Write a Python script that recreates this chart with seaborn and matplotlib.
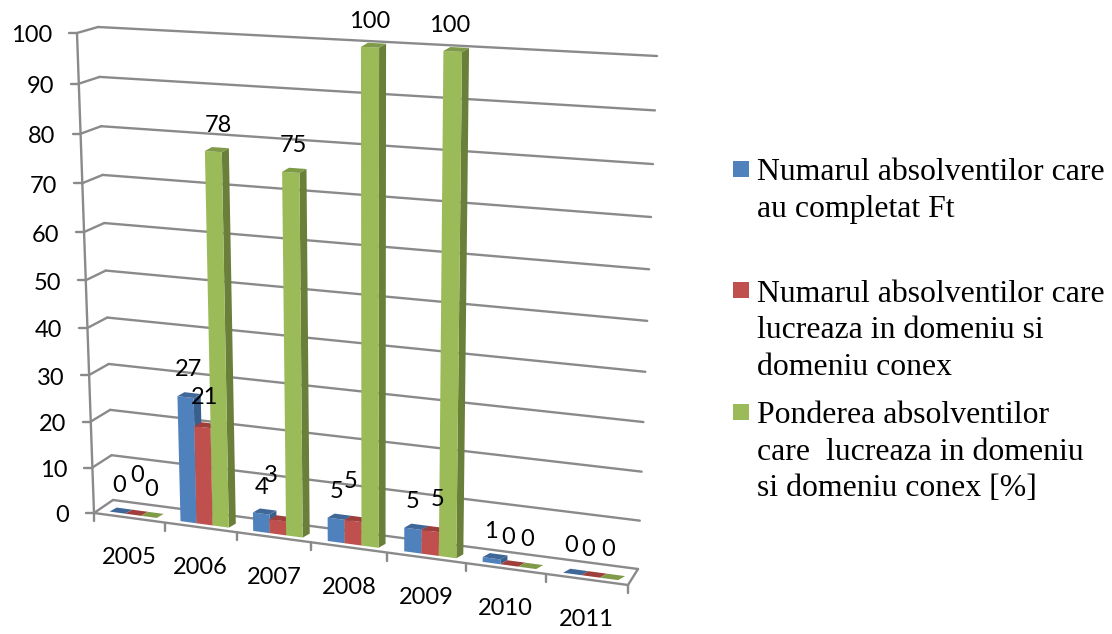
import numpy as np
import pandas as pd
import seaborn as sns
import matplotlib.pyplot as plt
from matplotlib.lines import Line2D
from matplotlib.patches import Polygon, Rectangle
from matplotlib.transforms import Affine2D, Transform

years = ["2005", "2006", "2007", "2008", "2009", "2010", "2011"]
completat = [0, 27, 4, 5, 5, 1, 0]
domeniu = [0, 21, 3, 5, 5, 0, 0]
ponderea = [0, 78, 75, 100, 100, 0, 0]
y_ticks = list(range(0, 101, 10))
series_names = [
    "Numarul absolventilor care au completat Ft",
    "Numarul absolventilor care lucreaza in domeniu si domeniu conex",
    "Ponderea absolventilor care lucreaza in domeniu si domeniu conex [%]",
]
legend_lines = [
    ["Numarul absolventilor care", "au completat Ft"],
    ["Numarul absolventilor care", "lucreaza in domeniu si", "domeniu conex"],
    ["Ponderea absolventilor", "care  lucreaza in domeniu", "si domeniu conex [%]"],
]

front_colors = ["#4F81BD", "#C0504D", "#9BBB59"]
side_colors = ["#395F8E", "#8F3B39", "#697F3A"]
top_colors = ["#3F6797", "#9E3F3C", "#7F9B47"]
grid_color = "#8A8A8A"

# where the data labels sit, in picture pixels, same order as the series
label_pos = [
    [(119, 484), (188, 368), (262, 486), (337, 490), (413, 499), (491, 529), (571, 543)],
    [(137, 473), (205, 395), (271, 474), (351, 480), (438, 497), (508, 535), (588, 547)],
    [(151, 488), (218, 124), (293, 144), (370, 19), (450, 23), (527, 538), (608, 548)],
]
legend_box_y = [161, 282, 404]
legend_baselines = [[180, 217], [302, 338, 375], [423, 460, 496]]


class Plane(Transform):
    """Maps (category, value) onto a tilted plane in picture pixels."""
    input_dims = 2
    output_dims = 2

    def __init__(self, corners):
        super().__init__()
        src = [(-0.5, 0), (-0.5, 100), (6.5, 0), (6.5, 100)]
        a, b = [], []
        for (u, v), (x, y) in zip(src, corners):
            a.append([u, v, 1, 0, 0, 0, -u * x, -v * x])
            a.append([0, 0, 0, u, v, 1, -u * y, -v * y])
            b += [x, y]
        self.h = np.append(np.linalg.solve(np.array(a, float), np.array(b, float)), 1).reshape(3, 3)

    def transform_non_affine(self, values):
        pts = np.column_stack([values, np.ones(len(values))]) @ self.h.T
        return pts[:, :2] / pts[:, 2:]


front = Plane([(94, 513), (77, 33), (628, 585), (646, 62)])
back = Plane([(113, 500), (98, 27), (638, 569), (657, 56)])
bars = Plane([(98, 510), (81, 32.5), (632, 582), (650, 61.5)])
depth = np.array([7, -4])

df = pd.DataFrame({
    "an": years * 3,
    "valoare": completat + domeniu + ponderea,
    "serie": np.repeat(series_names, len(years)),
})

sns.set_style("white")
plt.rcParams["font.family"] = ["Lato", "DejaVu Sans"]
plt.rcParams["text.color"] = "black"

fig = plt.figure(figsize=(11.12, 6.34), dpi=100)
ax = fig.add_axes([0, 0, 1, 1])
sns.barplot(data=df, x="an", y="valoare", hue="serie", order=years, palette=front_colors,
            width=0.667, gap=0, saturation=1, legend=False, linewidth=0, ax=ax)
ax.axis("off")

# everything apart from the bars is placed in picture pixels
pix = Affine2D().scale(1 / 1112, -1 / 634).translate(0, 1) + fig.transFigure


def line(p, q, lw=1.7):
    ax.add_line(Line2D([p[0], q[0]], [p[1], q[1]], color=grid_color, lw=lw, transform=pix,
                       clip_on=False, zorder=1, solid_capstyle="round"))


def on(plane, u, v):
    return plane.transform_non_affine(np.array([[u, v]], float))[0]


# walls and floor
for tick in y_ticks:
    f = on(front, -0.5, tick)
    b = on(back, -0.5, tick)
    line(f + [-8, 0], f)
    line(f, b)
    line(b, on(back, 6.5, tick))
    ax.text(f[0] - 25, f[1] + 3, str(tick), transform=pix, ha="right", va="center", fontsize=17)
line(on(front, -0.5, 0), on(front, -0.5, 100))
line(on(front, -0.5, 0), on(front, 6.5, 0))
line(on(front, 6.5, 0), on(back, 6.5, 0))
for i in range(len(years) + 1):
    p = on(front, i - 0.5, 0)
    line(p, p + [0, 8])
for i, year in enumerate(years):
    p = on(front, i, 0)
    ax.text(p[0], p[1] + 40, year, transform=pix, ha="center", va="center", fontsize=17)

# bars: seaborn front faces put on the plane, side and top faces added from them
for s, container in enumerate(ax.containers):
    for i, bar in enumerate(container):
        z = 3 + i + s * 0.1
        bar.set_transform(bars + pix)
        bar.set_clip_on(False)
        bar.set_edgecolor("none")
        bar.set_zorder(z)
        left, right = bar.get_x(), bar.get_x() + bar.get_width()
        height = bar.get_height()
        p_br = on(bars, right, 0)
        p_tl = on(bars, left, height)
        p_tr = on(bars, right, height)
        ax.add_patch(Polygon([p_br, p_tr, p_tr + depth, p_br + depth], transform=pix,
                             fc=side_colors[s], ec="none", clip_on=False, zorder=z - 0.01))
        ax.add_patch(Polygon([p_tl, p_tr, p_tr + depth, p_tl + depth], transform=pix,
                             fc=top_colors[s], ec="none", clip_on=False, zorder=z + 0.01))

# data labels
for values, places in zip([completat, domeniu, ponderea], label_pos):
    for value, (x, y) in zip(values, places):
        ax.text(x, y + 2, str(value), transform=pix, ha="center", va="center", fontsize=17, zorder=30)

# legend
for s, lines in enumerate(legend_lines):
    ax.add_patch(Rectangle((733, legend_box_y[s]), 16, 16, transform=pix, fc=front_colors[s],
                           ec="none", clip_on=False, zorder=30))
    for text, y in zip(lines, legend_baselines[s]):
        ax.text(757, y, text, transform=pix, ha="left", va="baseline", fontsize=22.9,
                family="Liberation Serif", zorder=30)

fig.savefig("out.png", dpi=100, facecolor="white")
